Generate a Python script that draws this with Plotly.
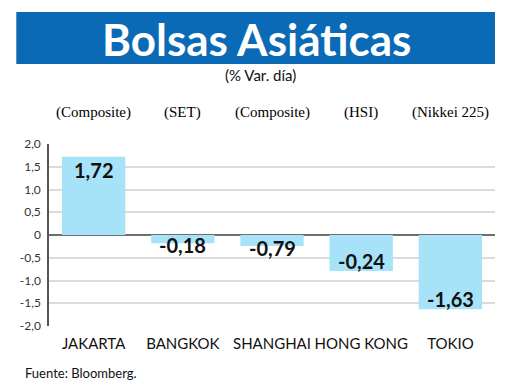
import plotly.graph_objects as go

cities = ["JAKARTA", "BANGKOK", "SHANGHAI", "HONG KONG", "TOKIO"]
indices = ["(Composite)", "(SET)", "(Composite)", "(HSI)", "(Nikkei 225)"]
bar_values = [1.72, -0.18, -0.24, -0.79, -1.63]
value_labels = ["1,72", "-0,18", "-0,79", "-0,24", "-1,63"]
y_tickvals = [2.0, 1.5, 1.0, 0.5, 0.0, -0.5, -1.0, -1.5, -2.0]
y_ticktext = ["2,0", "1,5", "1,0", "0,5", "0", "-0,5", "-1,0", "-1,5", "-2,0"]

OFF = 8  # page body margin
W, H = 520 - OFF, 390 - OFF
ML, MR, MT, MB = 45 - OFF, 25, 144 - OFF, 64
PW, PH = W - ML - MR, H - MT - MB


def px_x(x):
    return (x - OFF - ML) / PW


def px_y(y):
    return (H - MB - (y - OFF)) / PH


SANS = "Lato, Open Sans, sans-serif"

fig = go.Figure()
fig.add_trace(go.Bar(
    x=cities, y=bar_values,
    marker=dict(color="#a6e3f8", line=dict(width=0)),
    hoverinfo="skip",
))

annotations = []
for c, v, t in zip(cities, bar_values, value_labels):
    if v >= 0:
        a = dict(y=v, yanchor="top", yshift=1)
    elif abs(v) < 0.5:
        a = dict(y=v, yanchor="middle", yshift=-2)
    else:
        a = dict(y=v, yanchor="bottom", yshift=-4)
    a.update(x=c, xref="x", yref="y", text="<b>" + t + "</b>", showarrow=False,
             font=dict(family=SANS, size=20, color="#111111"))
    annotations.append(a)

for c, idx in zip(cities, indices):
    annotations.append(dict(x=c, xref="x", y=px_y(112), yref="paper", text=idx,
                            showarrow=False, yanchor="middle",
                            font=dict(family="Liberation Serif", size=15, color="#000000")))

annotations.append(dict(x=px_x(254), y=px_y(39), xref="paper", yref="paper",
                        text="<b>Bolsas Asiáticas</b>", showarrow=False,
                        xanchor="center", yanchor="middle",
                        font=dict(family=SANS, size=44, color="white")))
annotations.append(dict(x=px_x(258), y=px_y(75), xref="paper", yref="paper",
                        text="(% Var. día)", showarrow=False,
                        xanchor="center", yanchor="middle",
                        font=dict(family=SANS, size=15, color="#111111")))
annotations.append(dict(x=px_x(19), y=px_y(373), xref="paper", yref="paper",
                        text="Fuente: Bloomberg.", showarrow=False,
                        xanchor="left", yanchor="middle",
                        font=dict(family=SANS, size=13, color="#111111")))

shapes = [dict(type="rect", xref="paper", yref="paper",
               x0=px_x(12), x1=px_x(495), y0=px_y(64), y1=px_y(12),
               fillcolor="#0a6ab5", line=dict(width=0), layer="below")]

fig.update_layout(
    width=W, height=H,
    margin=dict(l=ML, r=MR, t=MT, b=MB),
    paper_bgcolor="white", plot_bgcolor="white",
    showlegend=False,
    bargap=0.29,
    annotations=annotations,
    shapes=shapes,
    xaxis=dict(
        range=[-0.5, 4.5], showgrid=False, zeroline=False, showline=False,
        ticks="", tickfont=dict(family=SANS, size=15, color="#111111"),
        ticklabelstandoff=7,
    ),
    yaxis=dict(
        range=[-2.0, 2.0], tickvals=y_tickvals, ticktext=y_ticktext,
        showgrid=True, gridcolor="#dcdcdc", gridwidth=1.5,
        zeroline=True, zerolinecolor="#6e6e6e", zerolinewidth=2,
        showline=True, linecolor="#555555", linewidth=1.5,
        ticks="", ticklabelstandoff=4,
        tickfont=dict(family=SANS, size=12, color="#333333"),
    ),
)

fig.write_html("out.html")
